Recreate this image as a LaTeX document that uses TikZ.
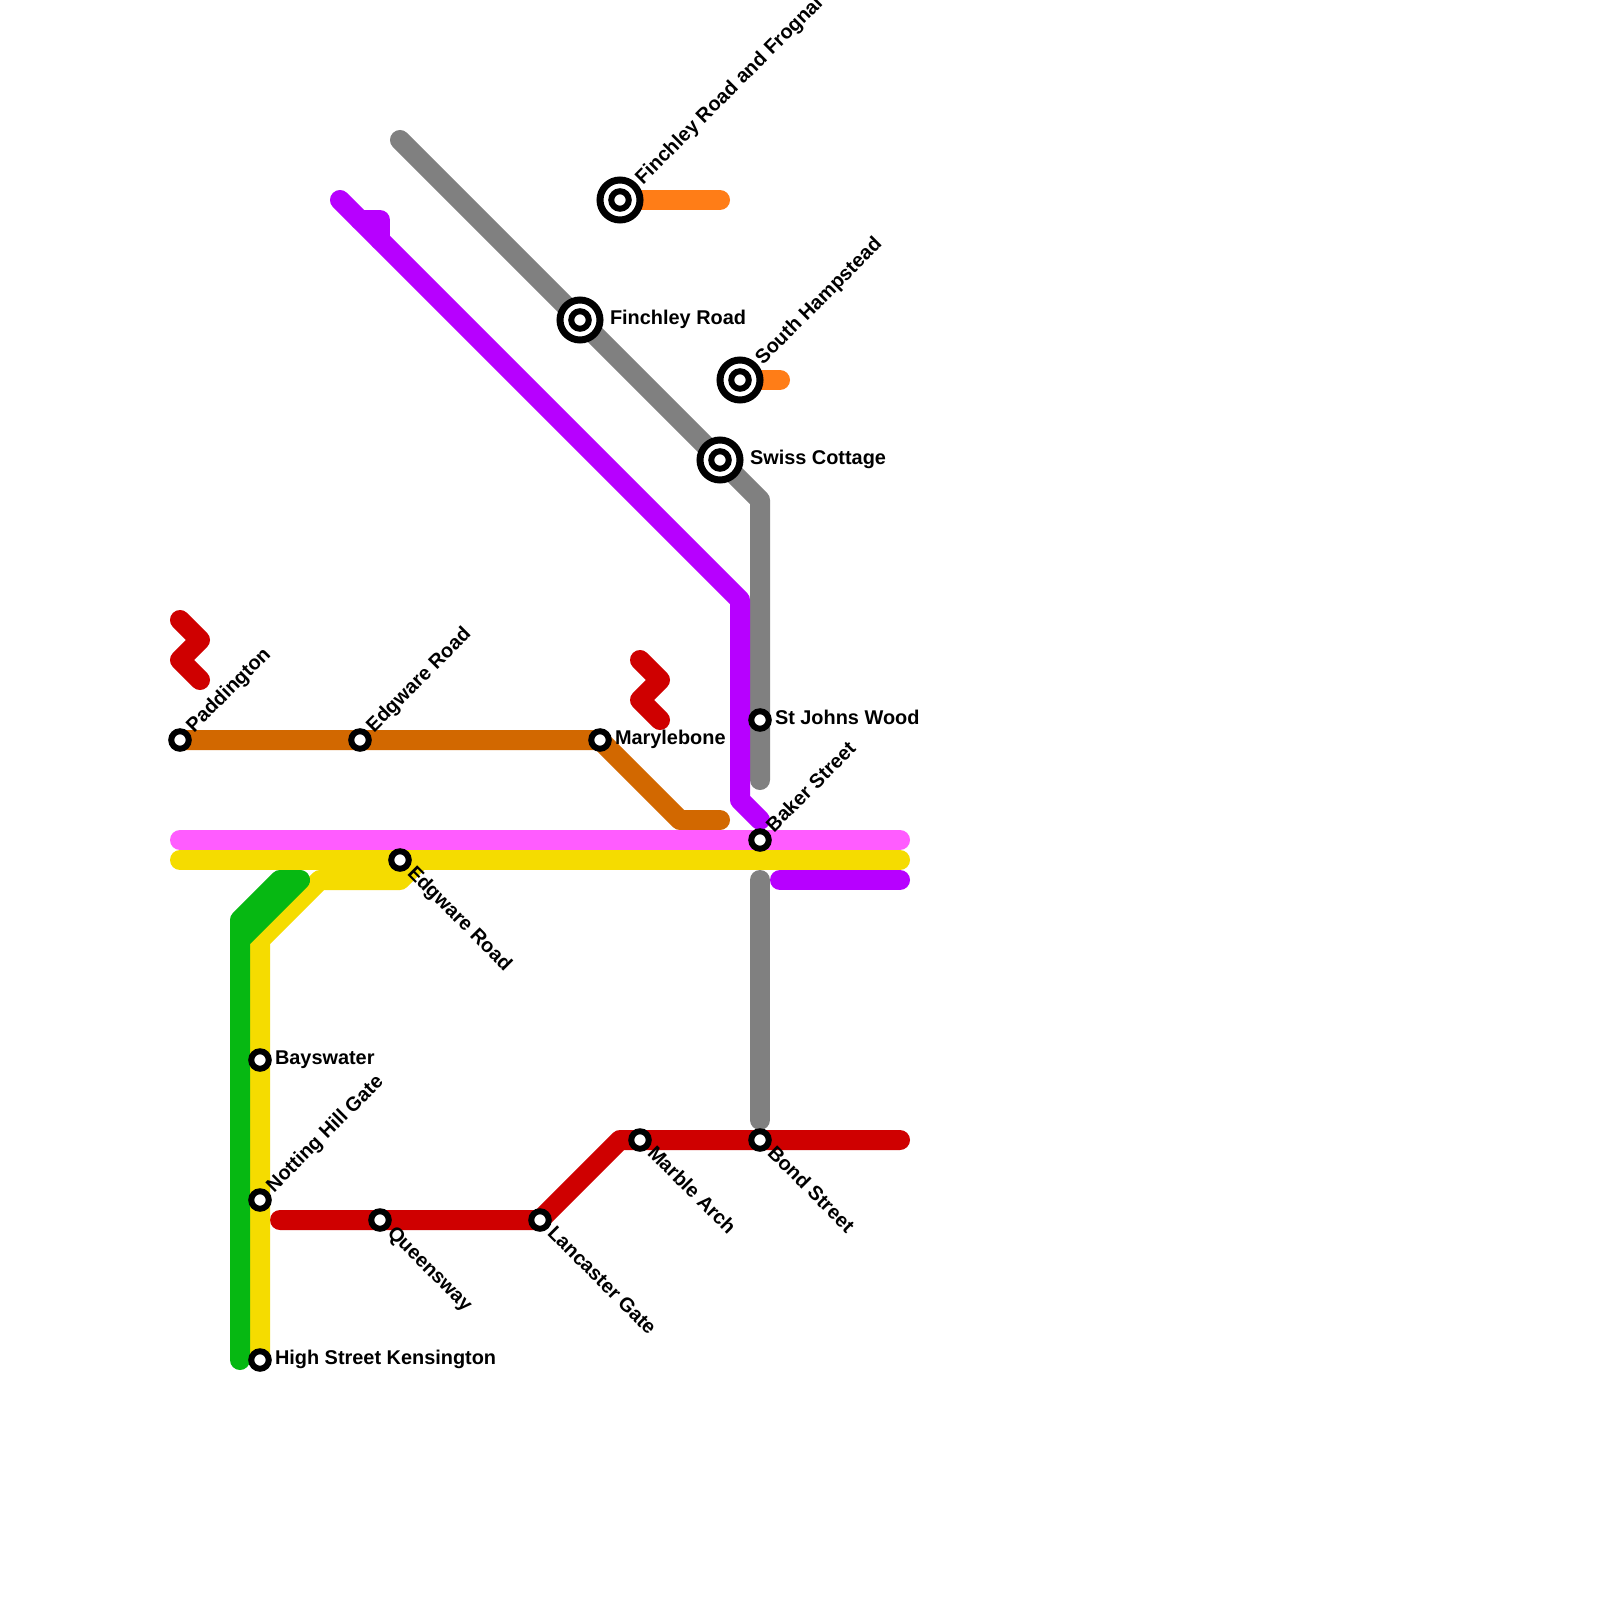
\documentclass[tikz,border=0pt]{standalone}
\usepackage{fontspec}
\setmainfont{Liberation Sans}
\definecolor{cMag}{HTML}{FF5CFF}
\definecolor{cYel}{HTML}{F5DC00}
\definecolor{cGrn}{HTML}{06B812}
\definecolor{cPur}{HTML}{B700FF}
\definecolor{cGry}{HTML}{808080}
\definecolor{cBrn}{HTML}{D26800}
\definecolor{cOrg}{HTML}{FF7D17}
\definecolor{cRed}{HTML}{CF0000}
\tikzset{
  tube/.style={line width=20pt,line cap=round,line join=round},
  smallst/.style={circle,draw=black,fill=white,line width=6pt,minimum size=17.5pt,inner sep=0pt,outer sep=0pt},
  bigst/.style={circle,draw=black,fill=white,line width=7pt,minimum size=40pt,inner sep=0pt,outer sep=0pt},
  bigcore/.style={circle,draw=black,fill=white,line width=6pt,minimum size=17.5pt,inner sep=0pt,outer sep=0pt},
  lab/.style={font=\fontsize{19.9}{22}\selectfont\bfseries,inner sep=0pt,outer sep=0pt,text=black},
  labE/.style={lab,anchor=base west},
  labNE/.style={lab,anchor=base west,rotate=45},
  labSE/.style={lab,anchor=base west,rotate=-45}
}
\begin{document}
\begin{tikzpicture}[x=1pt,y=-1pt]
\useasboundingbox (0,0) rectangle (1600,1600);
\fill[white] (0,0) rectangle (1600,1600);
% station positions
\coordinate (pPad) at (180,740);
\coordinate (pEdgN) at (360,740);
\coordinate (pMar) at (600,740);
\coordinate (pStJ) at (760,720);
\coordinate (pBak) at (760,840);
\coordinate (pEdgS) at (400,860);
\coordinate (pBay) at (260,1060);
\coordinate (pNot) at (260,1200);
\coordinate (pHSK) at (260,1360);
\coordinate (pQue) at (380,1220);
\coordinate (pLan) at (540,1220);
\coordinate (pMba) at (640,1140);
\coordinate (pBon) at (760,1140);
\coordinate (pFrg) at (620,200);
\coordinate (pFin) at (580,320);
\coordinate (pSHa) at (740,380);
\coordinate (pSwi) at (720,460);
% lines
\draw[tube,cGry] (400,140) -- (pFin) -- (pSwi) -- (760,500) -- (pStJ) -- (760,780);
\draw[tube,cGry] (760,880) -- (760,1120);
\draw[tube,cPur] (340,200) -- (740,600) -- (740,800) -- (760,820);
\draw[tube,cPur] (360,220) -- (380,220) -- (380,240);
\draw[tube,cPur] (780,880) -- (900,880);
\draw[tube,cBrn] (pPad) -- (pEdgN) -- (pMar) -- (680,820) -- (720,820);
\draw[tube,cOrg] (pFrg) -- (720,200);
\draw[tube,cOrg] (pSHa) -- (780,380);
\draw[tube,cRed] (180,620) -- (200,640) -- (180,660) -- (200,680);
\draw[tube,cRed] (640,660) -- (660,680) -- (640,700) -- (660,720);
\draw[tube,cRed] (280,1220) -- (pQue) -- (pLan) -- (620,1140) -- (pMba) -- (pBon) -- (900,1140);
\draw[tube,cYel] (pHSK) -- (pNot) -- (pBay) -- (260,940) -- (320,880) -- (400,880) -- (420,860);
\draw[tube,cYel] (180,860) -- (pEdgS) -- (900,860);
\draw[tube,cMag] (180,840) -- (pBak) -- (900,840);
\draw[tube,cGrn] (240,1360) -- (240,920) -- (280,880) -- (300,880) -- (240,940);
% stations
\foreach \n/\p in {sPad/pPad,sEdgN/pEdgN,sMar/pMar,sStJ/pStJ,sBak/pBak,sEdgS/pEdgS,sBay/pBay,sNot/pNot,sHSK/pHSK,sQue/pQue,sLan/pLan,sMba/pMba,sBon/pBon}
  \node[smallst] (\n) at (\p) {};
\foreach \n/\p in {sFrg/pFrg,sFin/pFin,sSHa/pSHa,sSwi/pSwi}{
  \node[bigst] (\n) at (\p) {};
  \node[bigcore] (\n c) at (\p) {};
}
% labels
\node[labNE] (tPad) at (194,733) {Paddington};
\node[labNE] (tEdgN) at (374,733) {Edgware Road};
\node[labE] (tMar) at (615,744.5) {Marylebone};
\node[labE] (tStJ) at (775,724.5) {St Johns Wood};
\node[labNE] (tBak) at (774,833) {Baker Street};
\node[labSE] (tEdgS) at (406.5,874) {Edgware Road};
\node[labE] (tBay) at (275,1064.5) {Bayswater};
\node[labNE] (tNot) at (274,1193) {Notting Hill Gate};
\node[labE] (tHSK) at (275,1364.5) {High Street Kensington};
\node[labSE] (tQue) at (386.5,1234) {Queensway};
\node[labSE] (tLan) at (546.5,1234) {Lancaster Gate};
\node[labSE] (tMba) at (646.5,1154) {Marble Arch};
\node[labSE] (tBon) at (766.5,1154) {Bond Street};
\node[labNE] (tFrg) at (643,185) {Finchley Road and Frognal};
\node[labE] (tFin) at (610,324.5) {Finchley Road};
\node[labNE] (tSHa) at (763,365) {South Hampstead};
\node[labE] (tSwi) at (750,464.5) {Swiss Cottage};
\end{tikzpicture}
\end{document}
